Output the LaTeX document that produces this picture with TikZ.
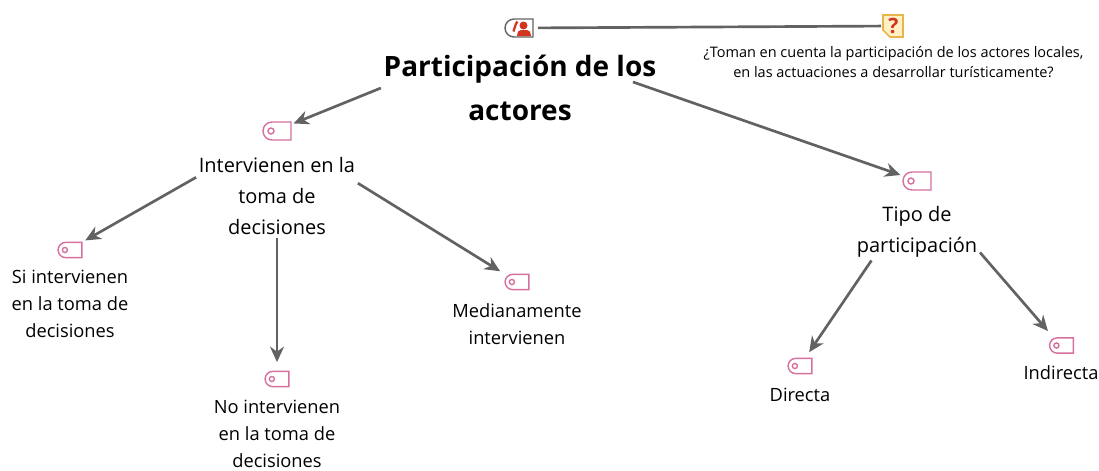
\documentclass[tikz,border=0pt]{standalone}
\usepackage{fontspec}
\setmainfont{Open Sans}
\usetikzlibrary{arrows.meta}
\definecolor{tagpink}{HTML}{D6709F}
\definecolor{linegray}{HTML}{626262}
\definecolor{iconred}{HTML}{D2341F}
\definecolor{noteyellow}{HTML}{FFF1C4}
\definecolor{noteorange}{HTML}{E9B44C}
\tikzset{
  mapline/.style={draw=linegray,line width=1.9pt,-{Stealth[length=11pt,width=10pt]}},
  tagline/.style={draw=tagpink,line width=1pt},
  tagnode/.style={inner sep=0pt,outer sep=0pt,minimum width=19.8pt,minimum height=12.8pt},
  concept/.style={align=center,inner sep=0pt,outer sep=2pt},
  bigtext/.style={concept,font=\fontsize{14.2}{22.3}\selectfont},
  smalltext/.style={concept,font=\fontsize{13}{19.2}\selectfont},
}
\newcommand{\tagicon}[3][1]{%
  \node[tagnode,scale=#1] (#2) at (#3) {};
  \begin{scope}[shift={(#2)},scale=#1]
    \draw[tagline] (14,-9) -- (-5,-9) arc (270:90:9) -- (14,9) -- cycle;
    \draw[tagline] (-6,0) circle (3);
  \end{scope}}
\begin{document}
\begin{tikzpicture}[x=0.025cm,y=-0.025cm]
  \useasboundingbox (0,0) rectangle (1099,470);

  % root and question
  \node[concept,font=\bfseries\fontsize{19.9}{31.5}\selectfont] (root) at (520,88) {Participación de los\\actores};
  \coordinate (rootEast) at (633,82);
  \node[inner sep=0pt,outer sep=3.5pt,minimum width=19.8pt,minimum height=12.8pt] (person) at (519,28) {};
  \draw[draw=linegray,line width=1pt] (533,19) -- (514,19) arc (270:90:9) -- (533,37) -- cycle;
  \fill[iconred] (523.5,25.5) circle (4);
  \fill[iconred] (517,36) -- (518,31.5) -- (521,30) -- (527,30) -- (530,31.5) -- (531,36) -- cycle;
  \draw[iconred,line width=1.6pt] (517.5,21.5) .. controls (515,24) and (515,28) .. (513.5,31.5);
  \node[inner sep=0pt,outer sep=0.7pt,minimum width=15.6pt,minimum height=15.6pt] (note) at (893,26) {};
  \draw[draw=noteorange,fill=noteyellow,line width=1.2pt] (883,15) -- (903,15) -- (903,37) -- (890,37) -- (883,30) -- cycle;
  \node[inner sep=0pt,text=iconred,font=\bfseries\fontsize{15}{15}\selectfont] (mark) at (893.5,25.5) {?};
  \node[concept,font=\fontsize{10.3}{14.4}\selectfont] (question) at (893.5,62) {¿Toman en cuenta la participación de los actores locales,\\en las actuaciones a desarrollar turísticamente?};
  \draw[draw=linegray,line width=1.9pt] (person) -- (note);

  % first branch
  \tagicon{tagInter}{277,131}
  \node[bigtext] (inter) at (277,196) {Intervienen en la\\toma de\\decisiones};
  \tagicon[0.85]{tagSi}{70,250}
  \node[smalltext] (si) at (70,304) {Si intervienen\\en la toma de\\decisiones};
  \tagicon[0.85]{tagNo}{277,379}
  \node[smalltext] (no) at (277,434) {No intervienen\\en la toma de\\decisiones};
  \tagicon[0.85]{tagMedia}{517,282}
  \node[smalltext] (media) at (517,324) {Medianamente\\intervienen};

  % second branch
  \tagicon{tagTipo}{917,181}
  \node[bigtext] (tipo) at (917,232) {Tipo de\\participación};
  \tagicon[0.85]{tagDirecta}{800,366}
  \node[smalltext] (directa) at (800,395) {Directa};
  \tagicon[0.85]{tagIndirecta}{1061.5,345.5}
  \node[smalltext] (indirecta) at (1061,373) {Indirecta};

  \draw[mapline,shorten >=2pt] (root.west) -- (tagInter.25);
  \draw[mapline,shorten >=2pt] (rootEast) -- (tagTipo.160);
  \draw[mapline,shorten >=2.8pt] (inter.167) -- (tagSi.north east);
  \draw[mapline,shorten >=6.6pt] (inter.south) -- (tagNo.north);
  \draw[mapline,shorten >=4.2pt] (inter.9) -- (tagMedia.north west);
  \draw[mapline,shorten >=5.3pt] (tipo.212) -- (tagDirecta.57);
  \draw[mapline,shorten >=6.4pt] (tipo.-18) -- (tagIndirecta.135);
\end{tikzpicture}
\end{document}
